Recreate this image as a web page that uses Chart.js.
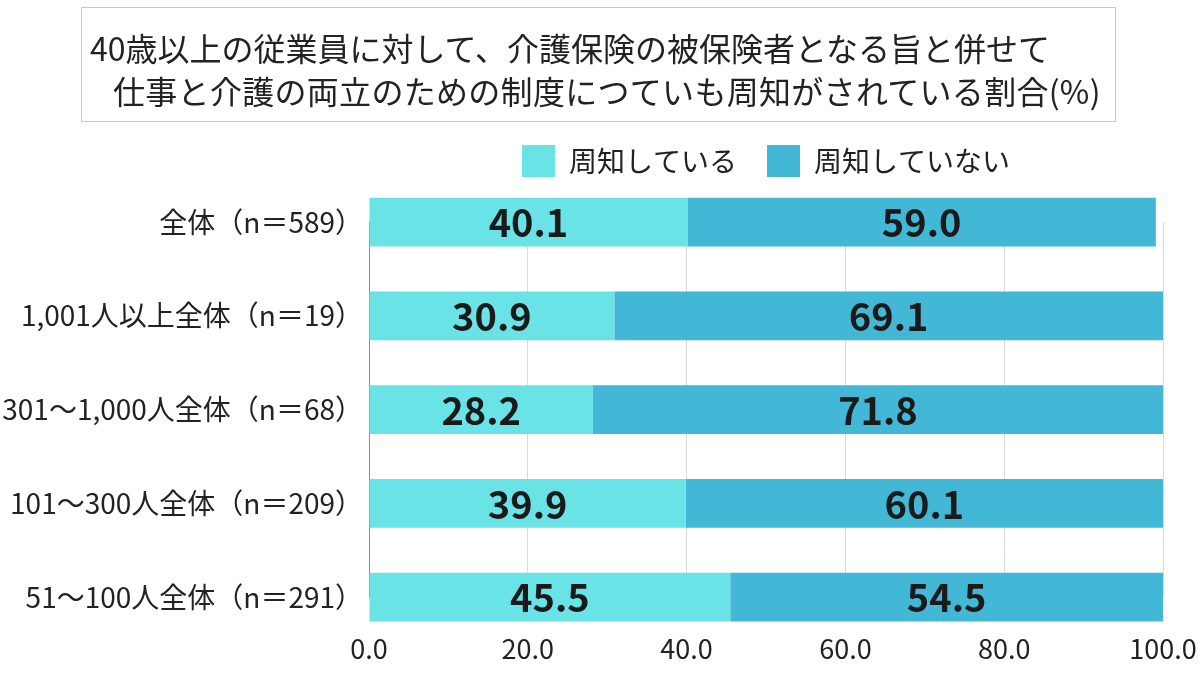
<!DOCTYPE html>
<html lang="ja">
<head>
<meta charset="utf-8">
<script src="https://cdn.jsdelivr.net/npm/chart.js@4"></script>
<style>
  html, body { margin: 0; padding: 0; background: #fff; }
  #wrap { position: relative; width: 1200px; height: 675px; }
  #title-box {
    position: absolute; left: 81px; top: 7px; width: 1035px; height: 115px;
    border: 1px solid #c8c8c8; box-sizing: border-box;
    font-family: "Noto Sans CJK JP", sans-serif; font-size: 32px; color: #222;
  }
  #title-box div { position: absolute; white-space: nowrap; line-height: 40px; }
  #t1 { left: 8px; top: 19px; }
  #t2 { left: 31px; top: 62px; letter-spacing: 0.3px; }
  canvas { position: absolute; left: 0; top: 0; }
</style>
</head>
<body>
<div id="wrap">
  <canvas id="chart" width="1200" height="675"></canvas>
  <div id="title-box">
    <div id="t1">40歳以上の従業員に対して、介護保険の被保険者となる旨と併せて</div>
    <div id="t2">仕事と介護の両立のための制度につていも周知がされている割合(%)</div>
  </div>
</div>
<script>
// データ
const categories = [
  "全体（n＝589）",
  "1,001人以上全体（n＝19）",
  "301～1,000人全体（n＝68）",
  "101～300人全体（n＝209）",
  "51～100人全体（n＝291）",
];
const seriesNames = ["周知している", "周知していない"];
const known = [40.1, 30.9, 28.2, 39.9, 45.5];
const unknown = [59.0, 69.1, 71.8, 60.1, 54.5];
const xTicks = [0, 20, 40, 60, 80, 100];

const colors = ["#6ae3e7", "#43b7d6"];
const font = "'Noto Sans CJK JP', 'Noto Sans', sans-serif";

Chart.defaults.font.family = font;
Chart.defaults.color = "#222";

// バーの中央に値を描く
const valueLabels = {
  id: "valueLabels",
  afterDatasetsDraw(chart) {
    const ctx = chart.ctx;
    ctx.save();
    ctx.font = "bold 38px " + font;
    ctx.fillStyle = "#1a1a1a";
    ctx.textAlign = "center";
    ctx.textBaseline = "middle";
    chart.data.datasets.forEach((ds, i) => {
      const meta = chart.getDatasetMeta(i);
      meta.data.forEach((bar, j) => {
        const p = bar.getCenterPoint();
        ctx.fillText(ds.data[j].toFixed(1), p.x, p.y + 1);
      });
    });
    ctx.restore();
  },
};

new Chart(document.getElementById("chart"), {
  type: "bar",
  data: {
    labels: categories,
    datasets: [
      { label: seriesNames[0], data: known, backgroundColor: colors[0] },
      { label: seriesNames[1], data: unknown, backgroundColor: colors[1] },
    ],
  },
  options: {
    indexAxis: "y",
    responsive: false,
    animation: false,
    layout: { padding: { top: 115, right: 37, bottom: 0, left: 0 } },
    datasets: {
      bar: { barPercentage: 0.52, categoryPercentage: 1, clip: false, borderWidth: 0 },
    },
    scales: {
      x: {
        stacked: true,
        min: 0,
        max: 100,
        afterBuildTicks(scale) {
          scale.ticks = xTicks.map((v) => ({ value: v }));
        },
        afterFit(scale) {
          scale.height = 78;
          scale.paddingLeft = 0;
          scale.paddingRight = 0;
        },
        ticks: {
          padding: 36,
          font: { size: 27 },
          color: "#222",
          callback: (v) => Number(v).toFixed(1),
        },
        grid: { color: "#d9d9d9", drawTicks: false },
        border: { display: false },
      },
      y: {
        stacked: true,
        offset: false,
        afterFit(scale) {
          scale.width = 369;
          scale.paddingTop = 0;
          scale.paddingBottom = 0;
        },
        ticks: { padding: 6, font: { size: 28 }, color: "#222" },
        grid: { display: false, drawTicks: false },
        border: { display: true, color: "#8c8c8c" },
      },
    },
    plugins: {
      legend: {
        position: "top",
        fullSize: false,
        labels: {
          boxWidth: 33,
          boxHeight: 32,
          padding: 30,
          font: { size: 28 },
          color: "#222",
        },
      },
      // 凡例とグラフの間の余白
      subtitle: {
        display: true,
        text: "",
        weight: 500,
        font: { size: 1, lineHeight: 1 },
        padding: { top: 0, bottom: 34 },
      },
      tooltip: { enabled: false },
    },
  },
  plugins: [valueLabels],
});
</script>
</body>
</html>
